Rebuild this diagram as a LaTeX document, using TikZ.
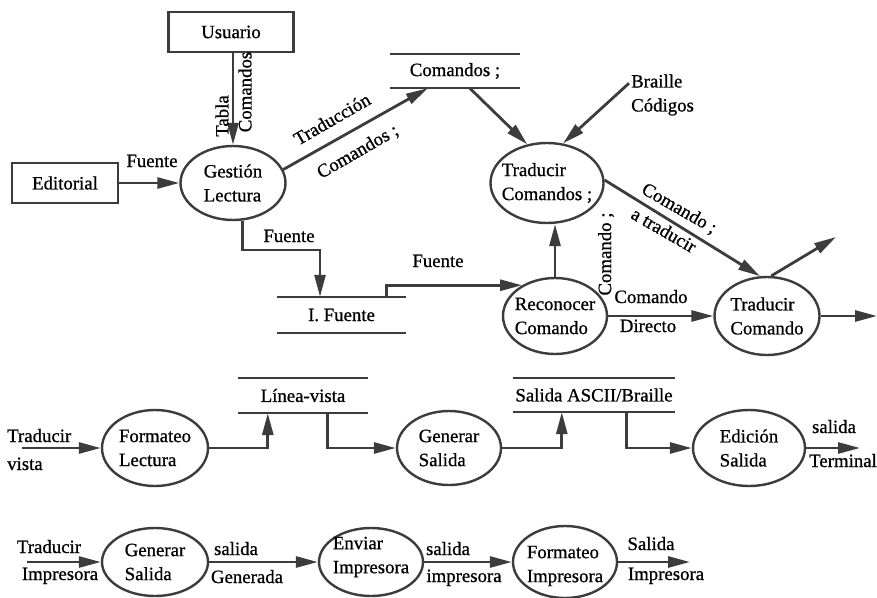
\documentclass[tikz,border=0pt]{standalone}
\usepackage{fontspec}
\setmainfont{Liberation Serif}[FakeBold=0.8]
\usetikzlibrary{arrows.meta,shapes.geometric,calc}
\definecolor{ink}{HTML}{3C3C3C}
\begin{document}
\begin{tikzpicture}[x=1pt,y=-1pt,
  every node/.style={font=\fontsize{18.8}{24}\selectfont, text=black},
  flow/.style={draw=ink, line width=2.8pt, -{Triangle[length=22pt,width=11pt]}},
  storeline/.style={draw=ink, line width=2.4pt},
  proc/.style={ellipse, draw=ink, line width=2.4pt, inner sep=0pt},
  ext/.style={rectangle, draw=ink, line width=2.4pt, inner sep=0pt},
  store/.style={inner sep=0pt, minimum height=34pt},
  lab/.style={align=left, inner sep=0pt},
  lbl/.style={inner sep=0pt}]
\useasboundingbox (0,0) rectangle (877,597);

% ---------- top part ----------
\node[ext, minimum width=125pt, minimum height=40pt] (usr) at (231,32) {Usuario};
\node[ext, minimum width=106pt, minimum height=40pt] (edi) at (65,183) {Editorial};
\node[proc, minimum width=105pt, minimum height=74pt, label={[lab]center:Gestión\\Lectura}] (gest) at (233,183) {};
\node[store, minimum width=130pt] (cmd) at (455,71) {Comandos ;};
\node[proc, minimum width=113pt, minimum height=80pt, label={[lab]center:Traducir\\Comandos ;}] (tc) at (547,183) {};
\node[lab, anchor=west] (brl) at (631,95) {Braille\\Códigos};
\node[proc, minimum width=104pt, minimum height=76pt, label={[lab]center:Reconocer\\Comando}] (rec) at (555,316) {};
\node[proc, minimum width=105pt, minimum height=78pt, label={[lab]center:Traducir\\Comando}] (tcd) at (767,316) {};
\node[store, minimum width=129pt, minimum height=36pt] (ifu) at (341.5,315) {I. Fuente};
\coordinate (o1) at (836,237);
\coordinate (o2) at (877,316);
\coordinate (c1) at (320,250);

\foreach \s in {cmd,ifu}{
  \draw[storeline] (\s.north west) -- (\s.north east) (\s.south west) -- (\s.south east);
}

\draw[flow] (usr.south -| gest.north) -- (gest.north);
\draw[flow] (edi) -- (gest);
\draw[flow] (gest.15) -- ($(cmd.south west)+(38,0)$);
\draw[flow] ($(cmd.south west)+(80,0)$) -- (tc.117);
\draw[flow] ($(brl.north west)+(-2,9)$) -- (tc.68);
\draw[flow] (tc.3) -- (tcd.100);
\draw[flow] (tcd.84) -- (o1);
\draw[flow] (tcd) -- (o2);
\draw[flow] (gest.-76) |- (c1) -- (c1 |- ifu.north);
\draw[flow] ($(ifu.north west)+(110,0)$) |- (rec.137);
\draw[flow] (rec) -- (tcd);
\draw[flow] (rec.north) -- (rec.north |- tc.south);

\node[lbl, anchor=base] (l1) at (152,167) {Fuente};
\node[lbl, rotate=90] (l2) at (222,116) {Tabla};
\node[lbl, rotate=90] (l3) at (245,92) {Comandos};
\node[lbl, rotate=30] (l4) at (332,119) {Traducción};
\node[lbl, rotate=30] (l5) at (358,152) {Comandos ;};
\node[lbl, rotate=-30] (l6) at (679,209) {Comando ;};
\node[lbl, rotate=-30] (l7) at (664,230) {a traducir};
\node[lbl, rotate=90] (l8) at (606,254) {Comando ;};
\node[lbl, anchor=base] (l9) at (651,303) {Comando};
\node[lbl, anchor=base] (l10) at (648,332) {Directo};
\node[lbl, anchor=base] (l11) at (289,242) {Fuente};
\node[lbl, anchor=base] (l12) at (438,267) {Fuente};

% ---------- middle row ----------
\coordinate (tv) at (22,448);
\node[proc, minimum width=106pt, minimum height=76pt, label={[lab]center:Formateo\\Lectura}] (fl) at (155,448) {};
\node[store, minimum width=130pt, minimum height=35pt] (lv) at (303,395.5) {Línea-vista};
\node[proc, minimum width=104pt, minimum height=74pt, label={[lab]center:Generar\\Salida}] (gs) at (449,448) {};
\node[store, minimum width=162pt] (sab) at (594,395) {Salida ASCII/Braille};
\node[proc, minimum width=112pt, minimum height=76pt, label={[lab]center:Edición\\Salida}] (es) at (749,448) {};
\coordinate (o3) at (860,448);

\foreach \s in {lv,sab}{
  \draw[storeline] (\s.north west) -- (\s.north east) (\s.south west) -- (\s.south east);
}

\draw[flow] (tv) -- (fl);
\draw[flow] (fl.east) -| ($(lv.south west)+(30,0)$);
\draw[flow] ($(lv.south west)+(90,0)$) |- (gs.west);
\draw[flow] (gs.east) -| ($(sab.south west)+(49,0)$);
\draw[flow] ($(sab.south west)+(114,0)$) |- (es.west);
\draw[flow] (es) -- (o3);

\node[lbl, anchor=base west] (m1) at (7,442) {Traducir};
\node[lbl, anchor=base west] (m2) at (7,470) {vista};
\node[lbl, anchor=base] (m3) at (834,433) {salida};
\node[lbl, anchor=base east] (m4) at (877,467) {Terminal};

% ---------- bottom row ----------
\coordinate (tp) at (27,562);
\node[proc, minimum width=106pt, minimum height=68pt, label={[lab]center:Generar\\Salida}] (gs2) at (155,562) {};
\node[proc, minimum width=104pt, minimum height=68pt, label={[lab,yshift=5pt]center:Enviar\\Impresora}] (ei) at (371,562) {};
\node[proc, minimum width=104pt, minimum height=72pt, label={[lab,yshift=-4pt]center:Formateo\\Impresora}] (fi) at (565,562) {};
\coordinate (o4) at (690,562);

\draw[flow] (tp) -- (gs2);
\draw[flow] (gs2) -- (ei);
\draw[flow] (ei) -- (fi);
\draw[flow] (fi) -- (o4);

\node[lbl, anchor=base] (b1) at (49,553) {Traducir};
\node[lbl, anchor=base] (b2) at (60,580) {Impresora};
\node[lbl, anchor=base] (b3) at (236,555) {salida};
\node[lbl, anchor=base] (b4) at (247,583) {Generada};
\node[lbl, anchor=base] (b5) at (448,555) {salida};
\node[lbl, anchor=base] (b6) at (464,582) {impresora};
\node[lbl, anchor=base] (b7) at (651,550) {Salida};
\node[lbl, anchor=base] (b8) at (666,580) {Impresora};
\end{tikzpicture}
\end{document}
